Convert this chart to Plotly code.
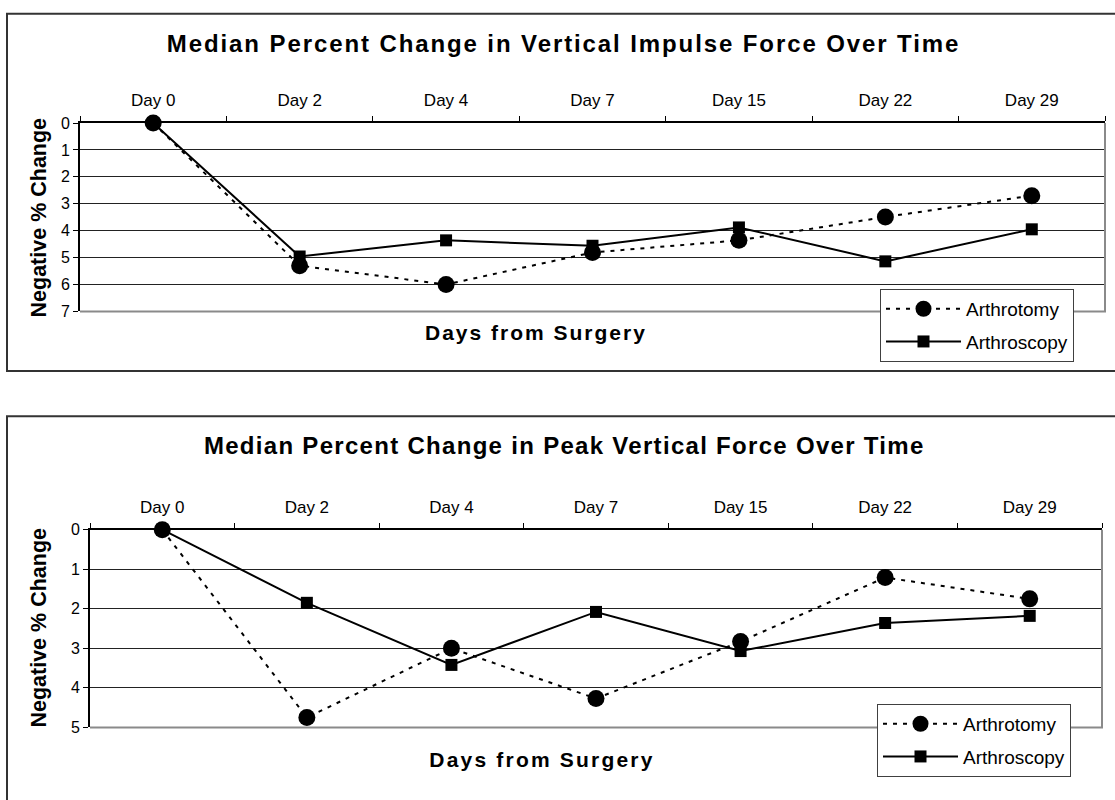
import plotly.graph_objects as go

# ---------------- data ----------------
days = ["Day 0", "Day 2", "Day 4", "Day 7", "Day 15", "Day 22", "Day 29"]

impulse_arthrotomy = [0, 5.30, 6.00, 4.81, 4.36, 3.49, 2.70]
impulse_arthroscopy = [0, 4.96, 4.36, 4.56, 3.88, 5.14, 3.95]

peak_arthrotomy = [0, 4.75, 3.00, 4.27, 2.83, 1.21, 1.75]
peak_arthroscopy = [0, 1.85, 3.42, 2.08, 3.07, 2.36, 2.18]

top_title = "Median Percent Change in Vertical Impulse Force Over Time"
bottom_title = "Median Percent Change in Peak Vertical Force Over Time"
x_title = "Days from Surgery"
y_title = "Negative % Change"
series_names = ["Arthrotomy", "Arthroscopy"]

# ---------------- layout helpers ----------------
W, H = 1115, 800
FONT = "Liberation Sans, Arial, sans-serif"


def px(x):
    return x / W


def py(y):
    return 1 - y / H


fig = go.Figure()


def add_pair(xa, ya, arthrotomy, arthroscopy, legend):
    fig.add_trace(go.Scatter(
        x=days, y=arthrotomy, name=series_names[0], xaxis=xa, yaxis=ya,
        mode="lines+markers", legend=legend, legendgroup=legend + "a",
        line=dict(color="black", width=2, dash="4px,6px"),
        marker=dict(symbol="circle", size=17, color="black"),
        cliponaxis=False,
    ))
    fig.add_trace(go.Scatter(
        x=days, y=arthroscopy, name=series_names[1], xaxis=xa, yaxis=ya,
        mode="lines+markers", legend=legend, legendgroup=legend + "b",
        line=dict(color="black", width=2),
        marker=dict(symbol="square", size=12, color="black"),
        cliponaxis=False,
    ))


add_pair("x", "y", impulse_arthrotomy, impulse_arthroscopy, "legend")
add_pair("x2", "y2", peak_arthrotomy, peak_arthroscopy, "legend2")

xaxis_common = dict(
    type="category", side="top", range=[-0.5, 6.5],
    ticks="outside", tickson="boundaries", ticklen=5, tickwidth=1,
    tickcolor="black", showline=True, linecolor="black", linewidth=2,
    showgrid=False, zeroline=False, ticklabelstandoff=8,
    tickfont=dict(family=FONT, size=17, color="black"),
)


def yaxis_common(maxv):
    return dict(
        range=[maxv, 0], tick0=0, dtick=1,
        ticks="outside", ticklen=5, tickwidth=1, tickcolor="black",
        showline=True, linecolor="black", linewidth=2,
        showgrid=True, gridcolor="#222222", gridwidth=1, zeroline=False,
        tickfont=dict(family=FONT, size=16, color="black"),
    )


legend_common = dict(
    xanchor="left", yanchor="top", bgcolor="white",
    bordercolor="#404040", borderwidth=1,
    font=dict(family=FONT, size=19, color="black"),
    itemwidth=75, tracegroupgap=5, traceorder="grouped",
)

shapes = []
# outer boxes around each panel
shapes.append(dict(type="rect", xref="paper", yref="paper",
                   x0=px(7), x1=px(1130), y0=py(371), y1=py(6),
                   line=dict(color="#333333", width=2), layer="below"))
shapes.append(dict(type="rect", xref="paper", yref="paper",
                   x0=px(7), x1=px(1130), y0=py(815), y1=py(417),
                   line=dict(color="#333333", width=2), layer="below"))
# gray bottom/right plot-area border
for xr, yr in (("x domain", "y domain"), ("x2 domain", "y2 domain")):
    shapes.append(dict(type="path", xref=xr, yref=yr,
                       path="M 0,0 L 1,0 L 1,1",
                       line=dict(color="#8a8a8a", width=2), layer="above"))

annotations = [
    dict(text="<b>%s</b>" % top_title, x=px(563.5), y=py(36),
         font=dict(family=FONT, size=24, color="black")),
    dict(text="<b>%s</b>" % bottom_title, x=px(564), y=py(447),
         font=dict(family=FONT, size=24, color="black")),
    dict(text="<b>%s</b>" % x_title, x=px(535.5), y=py(332),
         font=dict(family=FONT, size=21, color="black")),
    dict(text="<b>%s</b>" % x_title, x=px(541.5), y=py(768),
         font=dict(family=FONT, size=21, color="black")),
    dict(text="<b>%s</b>" % y_title, x=px(39), y=py(214), textangle=-90,
         font=dict(family=FONT, size=21.5, color="black")),
    dict(text="<b>%s</b>" % y_title, x=px(39), y=py(633), textangle=-90,
         font=dict(family=FONT, size=21.5, color="black")),
]
for a in annotations:
    a.update(xref="paper", yref="paper", xanchor="center", yanchor="middle",
             showarrow=False)

fig.update_layout(
    width=W, height=H,
    margin=dict(l=0, r=0, t=0, b=0),
    paper_bgcolor="white", plot_bgcolor="white",
    font=dict(family=FONT, color="black"),
    xaxis=dict(domain=[px(80), px(1105)], anchor="y", **xaxis_common),
    yaxis=dict(domain=[py(310), py(117.5)], anchor="x", **yaxis_common(7)),
    xaxis2=dict(domain=[px(90), px(1102)], anchor="y2", **xaxis_common),
    yaxis2=dict(domain=[py(735), py(533)], anchor="x2", **yaxis_common(5)),
    legend=dict(x=px(880), y=py(287), **legend_common),
    legend2=dict(x=px(877), y=py(711), **legend_common),
    shapes=shapes,
    annotations=annotations,
    showlegend=True,
    hovermode=False,
)

post = """
(function(){
  document.body.style.margin = '0';
  document.body.style.padding = '0';
  var sp = {'0':'1.9px','1':'1.3px','2':'2px','3':'2.2px'};
  document.querySelectorAll('.annotation').forEach(function(a){
    var i = a.getAttribute('data-index');
    var t = a.querySelector('.annotation-text');
    if (t && sp[i]) { t.style.letterSpacing = sp[i]; }
  });
})();
"""

fig.write_html("out.html", post_script=post, config={"displayModeBar": False})
